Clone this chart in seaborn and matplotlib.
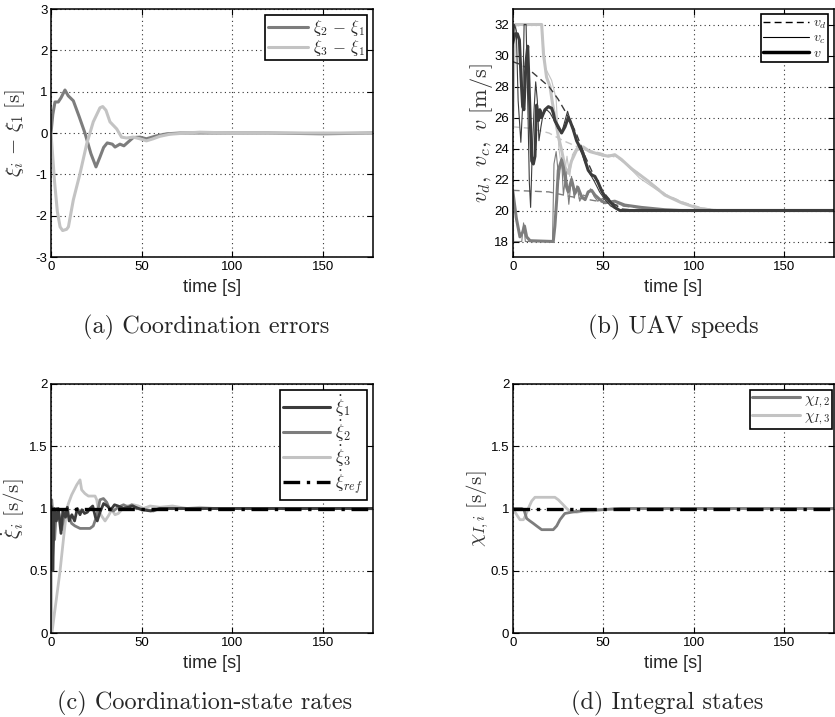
import numpy as np
import pandas as pd
import seaborn as sns
import matplotlib
matplotlib.use("Agg")
import matplotlib.pyplot as plt
from matplotlib.lines import Line2D
from matplotlib.ticker import FormatStrFormatter

# ---------------------------------------------------------------- data
T_END = 177.5

# (a) coordination errors
t_e21 = [0, 1, 2.2, 4, 5.5, 7.7, 9.5, 12.3, 15.5, 18.7, 22, 24.8, 27, 29, 31, 33.8, 35.3, 38,
         40.2, 42.5, 45.3, 49, 52.6, 58, 63.8, 71, 90, 120, 150, T_END]
e21 = [0, 0.45, 0.75, 0.75, 0.85, 1.04, 0.9, 0.78, 0.4, 0.0, -0.5, -0.82, -0.58, -0.35, -0.24,
       -0.27, -0.34, -0.27, -0.31, -0.22, -0.11, -0.1, -0.14, -0.07, -0.02, 0.0, 0.0, 0.0, -0.02, 0.0]
t_e31 = [0, 2, 3.5, 5, 6.4, 8.6, 9.6, 12.3, 16, 19.7, 23.3, 27, 28.5, 30.3, 32.5, 36.2, 38.9,
         41.6, 45.3, 49, 52.6, 56.3, 60, 65.5, 74.6, 82, 100, 150, T_END]
e31 = [0, -1.2, -1.9, -2.27, -2.36, -2.33, -2.27, -1.62, -0.98, -0.26, 0.27, 0.61, 0.64, 0.55,
       0.27, 0.1, -0.1, -0.12, -0.1, -0.14, -0.19, -0.14, -0.08, -0.03, 0.0, 0.02, 0.0, 0.0, 0.0]

# (b) UAV speeds: desired (vd), commanded (vc) and actual (v) for each vehicle
t_vd1 = [0, 5, 10, 15, 20, 25, 30, 35, 40, 45, 50, 55, 60, 70, T_END]
vd1 = [29.6, 29.4, 29.0, 28.5, 28.0, 27.2, 26.2, 25.0, 23.5, 22.2, 21.2, 20.5, 20.1, 20.0, 20.0]
t_vc1 = [0, 1, 2, 3, 4.5, 5.5, 6.3, 7.4, 8.3, 9.2, 9.9, 10.8, 11.8, 12.7, 13.6, 14.5, 15.6, 16.9,
         18.8, 20.6, 23, 24.8, 27, 28.9, 30.3, 31.6, 33.5, 36, 39, 42, 45, 48, 51, 54, 57, 60, T_END]
vc1 = [30.5, 32, 31.6, 27.1, 24.4, 26.8, 32, 32, 27.1, 21.8, 20.2, 23.8, 26.5, 28.3, 27.1, 24.5,
       25.4, 26.3, 26.5, 26.3, 25.8, 25.3, 25.0, 25.8, 26.4, 25.9, 25.1, 24.3, 23.4, 22.5, 21.9,
       21.2, 20.7, 20.3, 20.1, 20.0, 20.0]
t_v1 = [0, 1.3, 2.6, 3.7, 4.6, 5.5, 6.2, 7.3, 8.3, 9.5, 10.5, 11.4, 12.3, 13.2, 14.2, 15, 16,
        17.8, 19.7, 21.5, 22.4, 23.3, 25.2, 27, 28.9, 30.7, 31.6, 33.5, 35.3, 37, 38.9, 39.9,
        41.7, 43.6, 45.4, 47.2, 49, 50.9, 52.8, 54.6, 56.4, 59.2, T_END]
v1 = [30.8, 31.4, 31.4, 31.0, 28.6, 26.7, 26.5, 29.5, 30.6, 26.5, 23.2, 23.0, 23.5, 26.8, 25.8,
      26.5, 26.0, 26.5, 26.7, 26.6, 26.3, 25.8, 25.4, 25.0, 25.4, 26.0, 25.8, 25.2, 24.5, 24.1,
      23.7, 23.25, 22.6, 22.3, 22.2, 21.8, 21.3, 20.9, 20.7, 20.45, 20.2, 20.0, 20.0]

t_vd2 = [0, 20, 32, 47, 60, 75, 90, T_END]
vd2 = [21.3, 21.2, 20.9, 20.6, 20.3, 20.1, 20.0, 20.0]
t_vc2 = [0, 0.5, 5, 6, 7, 8, 22, 22.8, 24, 25.5, 27, 28, 29.5, 31, 32.5, 34, 35.5, 37, 39, 41,
         43, 45, 47, 50, 53, 56, 60, 70, 85, T_END]
vc2 = [21.5, 18.0, 18.0, 19.2, 18.0, 18.0, 18.0, 23.0, 23.8, 22.0, 23.4, 21.0, 22.5, 20.4, 22.2,
       20.8, 21.6, 20.6, 21.0, 20.9, 21.4, 20.9, 20.6, 20.8, 20.5, 20.6, 20.35, 20.2, 20.05, 20.0]
t_v2 = [0, 2, 4, 5.5, 6.5, 7.7, 9.6, 22.4, 23.3, 24.3, 25.2, 27, 28, 29.8, 30.7, 32.5, 34.4, 36,
        38, 40, 41.7, 43.6, 45.4, 48.2, 50.9, 56.4, 61.9, 71, 84, 93, T_END]
v2 = [21.3, 19.5, 18.3, 18.6, 19.0, 18.3, 18.05, 18.0, 19.0, 20.7, 22.6, 23.25, 22.8, 21.5, 21.2,
      22.0, 21.1, 21.5, 20.9, 20.7, 21.2, 21.3, 21.0, 20.7, 20.5, 20.6, 20.35, 20.2, 20.05, 20.0,
      20.0]

t_vd3 = [0, 10, 20, 28, 38, 45, 52, 58, 65, 75, 85, 95, 105, 115, 122, T_END]
vd3 = [25.4, 25.3, 25.0, 24.5, 24.0, 23.8, 23.6, 23.4, 22.8, 21.9, 21.0, 20.5, 20.15, 20.02,
       20.0, 20.0]
t_vc3 = [0, 0.3, 16, 18, 21.5, 24, 25.5, 27, 28.5, 30, 31.5, 33, 35, 37, 40, 45, 50, 55, 60, 70,
         80, 90, 100, 110, 120, T_END]
vc3 = [25.4, 32, 32, 29.2, 28.4, 27.2, 24.0, 22.8, 22.3, 23.5, 22.2, 23.6, 24.0, 24.3, 23.9,
       23.7, 23.5, 23.6, 23.3, 22.1, 21.3, 20.7, 20.25, 20.05, 20.0, 20.0]
t_v3 = [0, 0.5, 1.3, 16, 17, 18.7, 20.6, 22, 25.2, 27, 28.9, 30.7, 32.5, 35.3, 39, 42.6, 49,
        52.8, 56.4, 60, 65.6, 74.8, 84, 93.2, 102.4, 111.6, 120.8, T_END]
v3 = [25.4, 29.0, 32, 32, 30.1, 28.6, 28.0, 26.9, 24.8, 23.9, 22.8, 22.4, 23.2, 23.9, 24.1, 23.8,
      23.6, 23.5, 23.6, 23.3, 22.7, 21.9, 21.0, 20.5, 20.15, 20.0, 20.0, 20.0]

# (c) coordination-state rates
t_r1 = [0, 0.5, 1, 1.8, 3, 4, 5.5, 6.5, 8, 9, 10, 11.5, 13, 14.5, 16, 17, 18.5, 20, 21.5, 23,
        24.5, 25.5, 27, 29, 31, 33, 35, 37, 40, 45, 50, 55, 60, T_END]
r1 = [1.02, 1.0, 0.5, 1.0, 0.9, 1.0, 0.8, 0.98, 0.93, 1.01, 0.9, 0.95, 0.9, 1.0, 0.95, 0.99,
      0.96, 0.97, 1.0, 1.02, 0.93, 0.9, 0.97, 1.04, 1.02, 0.99, 1.03, 1.02, 1.0, 1.02, 0.99, 0.98,
      1.0, 1.0]
t_r2 = [0, 0.4, 2, 3, 4, 5.9, 7.7, 9.6, 11.4, 13.2, 16, 21.5, 23.3, 25.2, 27, 28.9, 30.7, 32.5,
        34.4, 37, 40, 42.6, 44.5, 47, 52.8, 56.4, 60, T_END]
r2 = [1.0, 1.07, 0.75, 1.0, 0.99, 0.83, 0.99, 0.94, 0.88, 0.86, 0.84, 0.84, 0.86, 0.94, 1.07,
      1.08, 1.05, 0.99, 0.98, 1.01, 1.03, 1.01, 1.03, 1.0, 0.99, 0.98, 1.0, 1.0]
t_r3 = [0, 0.5, 5, 8.6, 9.6, 11.4, 14.2, 16, 16.9, 18.7, 20.6, 24.3, 25.2, 26.1, 27.9, 29.8,
        31.6, 33.5, 35.3, 37.1, 39, 41.7, 45.4, 48.2, 50.9, 54.6, 60, 67, 75, 82, 90, T_END]
r3 = [1.05, 0.0, 0.5, 0.99, 1.04, 1.11, 1.19, 1.23, 1.15, 1.12, 1.10, 1.10, 1.07, 0.99, 0.94,
      0.9, 0.94, 0.99, 0.95, 0.96, 0.99, 1.02, 1.03, 1.02, 1.0, 1.02, 1.01, 1.02, 1.0, 1.01, 1.0,
      1.0]
t_ref = [0, T_END]
r_ref = [1.0, 1.0]

# (d) integral states
t_c2 = [0, 5, 6.2, 7.7, 9.5, 11.4, 13.2, 16, 22.4, 24.3, 26.1, 28.8, 32.5, 37.1, 42.6, 48, 60,
        T_END]
c2 = [1.0, 1.0, 0.99, 0.92, 0.9, 0.88, 0.86, 0.83, 0.83, 0.86, 0.91, 0.96, 0.97, 0.98, 0.99,
      0.99, 1.0, 1.0]
t_c3 = [0, 2.2, 4, 5.9, 7.3, 8.6, 10.5, 12.3, 16, 23.3, 25.2, 27.9, 29.8, 31.6, 35.3, 39, 44.5,
        50, 60, T_END]
c3 = [1.0, 0.95, 0.91, 0.91, 0.95, 1.0, 1.06, 1.09, 1.09, 1.09, 1.07, 1.03, 1.0, 0.98, 0.97,
      0.98, 0.98, 0.99, 1.0, 1.0]

captions = ["(a) Coordination errors", "(b) UAV speeds",
            "(c) Coordination-state rates", "(d) Integral states"]

# ---------------------------------------------------------------- style
sns.set_theme(style="white")
plt.rcParams.update({
    "font.family": ["Liberation Sans", "DejaVu Sans"],
    "mathtext.fontset": "cm",
    "axes.edgecolor": "black",
    "axes.linewidth": 1.0,
    "xtick.direction": "in",
    "ytick.direction": "in",
    "xtick.top": True,
    "ytick.right": True,
    "xtick.bottom": True,
    "ytick.left": True,
    "xtick.major.size": 4,
    "ytick.major.size": 4,
    "xtick.major.width": 0.8,
    "ytick.major.width": 0.8,
    "xtick.color": "black",
    "ytick.color": "black",
    "xtick.labelsize": 9.5,
    "ytick.labelsize": 9.5,
    "xtick.major.pad": 3,
    "ytick.major.pad": 2.5,
    "axes.unicode_minus": True,
})

DARK, MID, LIGHT = "#3c3c3c", "#7d7d7d", "#c3c3c3"

W, H = 835, 717
fig = plt.figure(figsize=(W / 100, H / 100), dpi=100)


def px_axes(left, top, right, bottom):
    return fig.add_axes([left / W, 1 - bottom / H, (right - left) / W, (bottom - top) / H])


ax_a = px_axes(51, 9, 373, 257)
ax_b = px_axes(512.7, 9, 834, 257)
ax_c = px_axes(51, 384, 373, 633)
ax_d = px_axes(512.7, 384, 834, 633)


def line(ax, t, y, **kw):
    sns.lineplot(x=np.asarray(t, float), y=np.asarray(y, float), ax=ax, estimator=None,
                 sort=False, legend=False, **kw)


def finish(ax, ylim, yticks, ylabel, label_x, label_fs=15):
    ax.set_xlim(0, T_END)
    ax.set_ylim(*ylim)
    ax.set_xticks([0, 50, 100, 150])
    ax.set_yticks(yticks)
    ax.yaxis.set_major_formatter(FormatStrFormatter("%g"))
    ax.grid(True, linestyle=(0, (1, 3)), color="#333333", linewidth=0.8)
    ax.set_axisbelow(True)
    for s in ax.spines.values():
        s.set_visible(True)
        s.set_color("black")
        s.set_linewidth(1.1)
    ax.set_xlabel("time [s]", fontsize=13, labelpad=4)
    ax.set_ylabel(ylabel, fontsize=label_fs, color="#333333", va="center")
    ax.yaxis.set_label_coords(label_x, 0.5)


def legend(ax, handles, labels, anchor, fs, **kw):
    opts = dict(handletextpad=0.3, borderpad=0.2, labelspacing=0.0)
    opts.update(kw)
    lg = ax.legend(handles, labels, loc="upper right", bbox_to_anchor=anchor,
                   borderaxespad=0, fancybox=False, framealpha=1, edgecolor="black",
                   fontsize=fs, **opts)
    lg.get_frame().set_linewidth(1.2)
    return lg


# (a)
line(ax_a, t_e21, e21, color=MID, linewidth=2.2)
line(ax_a, t_e31, e31, color=LIGHT, linewidth=2.2)
finish(ax_a, (-3, 3), [-3, -2, -1, 0, 1, 2, 3], r"$\xi_i\,-\,\xi_1\ [\mathrm{s}]$",
       (15 - 51) / 322)
legend(ax_a, [Line2D([], [], color=MID, lw=2.2), Line2D([], [], color=LIGHT, lw=2.2)],
       [r"$\xi_2\,-\,\xi_1$", r"$\xi_3\,-\,\xi_1$"],
       (1 - 6 / 322, 1 - 6 / 248), 12, handlelength=2.4, borderpad=0.15)

# (b)
DASH = (0, (5, 3))
for tv, vd, tc, vc, tt, vv, col in [
        (t_vd3, vd3, t_vc3, vc3, t_v3, v3, LIGHT),
        (t_vd2, vd2, t_vc2, vc2, t_v2, v2, MID),
        (t_vd1, vd1, t_vc1, vc1, t_v1, v1, DARK)]:
    line(ax_b, tv, vd, color=col, linewidth=1.0, linestyle=DASH)
    line(ax_b, tc, vc, color=col, linewidth=0.8)
    line(ax_b, tt, vv, color=col, linewidth=2.2)
finish(ax_b, (17, 33), list(range(18, 33, 2)), r"$v_d,\ v_c,\ v\ [\mathrm{m/s}]$",
       (482 - 512.7) / 321, label_fs=16)
legend(ax_b, [Line2D([], [], color="black", lw=1.0, ls=DASH),
              Line2D([], [], color="black", lw=0.8),
              Line2D([], [], color="black", lw=2.5)],
       [r"$v_d$", r"$v_c$", r"$v$"], (1 - 6 / 321, 1 - 5 / 248), 10, handlelength=3.3,
       borderpad=0.1)

# (c)
REF = (0, (5, 2, 1, 2))
line(ax_c, t_r3, r3, color=LIGHT, linewidth=2.0)
line(ax_c, t_r2, r2, color=MID, linewidth=2.0)
line(ax_c, t_r1, r1, color=DARK, linewidth=2.0)
line(ax_c, t_ref, r_ref, color="black", linewidth=2.4, linestyle=REF)
finish(ax_c, (0, 2), [0, 0.5, 1, 1.5, 2], r"$\dot{\xi}_i\ [\mathrm{s/s}]$", (13 - 51) / 322)
legend(ax_c, [Line2D([], [], color=DARK, lw=2.2), Line2D([], [], color=MID, lw=2.2),
              Line2D([], [], color=LIGHT, lw=2.2),
              Line2D([], [], color="black", lw=2.4, ls=REF)],
       [r"$\dot{\xi}_1$", r"$\dot{\xi}_2$", r"$\dot{\xi}_3$", r"$\dot{\xi}_{ref}$"],
       (1 - 6 / 322, 1 - 6 / 249), 12.5, handlelength=2.7)

# (d)
line(ax_d, t_c3, c3, color=LIGHT, linewidth=2.0)
line(ax_d, t_c2, c2, color=MID, linewidth=2.0)
line(ax_d, t_ref, r_ref, color="black", linewidth=2.4, linestyle=REF)
finish(ax_d, (0, 2), [0, 0.5, 1, 1.5, 2], r"$\chi_{I,i}\ [\mathrm{s/s}]$",
       (478 - 512.7) / 321)
legend(ax_d, [Line2D([], [], color=MID, lw=2.2), Line2D([], [], color=LIGHT, lw=2.2)],
       [r"$\chi_{I,2}$", r"$\chi_{I,3}$"], (1 - 2 / 321, 1 - 6 / 249), 11,
       handlelength=3.1, borderpad=0.12)

# sub-figure captions
for (x, y), text in zip([(206, 327), (673, 327), (205, 703), (667, 703)], captions):
    fig.text(x / W, 1 - y / H, text, ha="center", va="center", fontsize=17.5,
             family=["cmr10", "DejaVu Serif"])

fig.savefig("out.png", dpi=100)
